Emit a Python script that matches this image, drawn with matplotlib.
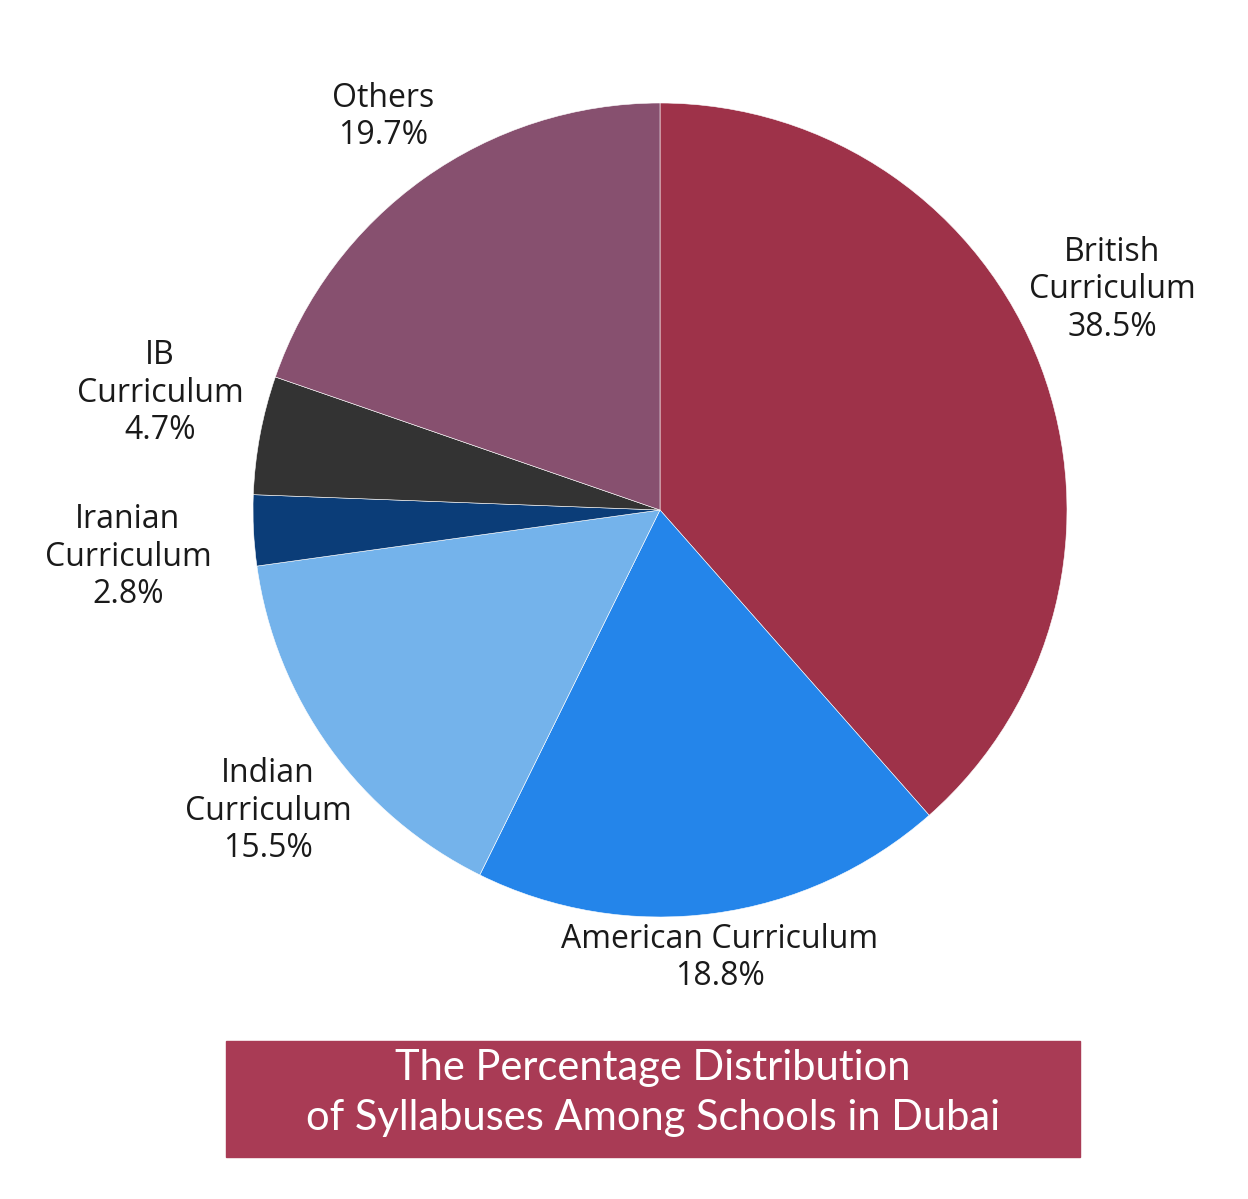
import matplotlib.pyplot as plt
from matplotlib.patches import Rectangle

# data (clockwise from 12 o'clock)
labels = ["British\nCurriculum", "American Curriculum", "Indian\nCurriculum",
          "Iranian\nCurriculum", "IB\nCurriculum", "Others"]
shares = [38.5, 18.8, 15.5, 2.8, 4.7, 19.7]
colors = ["#9E3249", "#2485EA", "#74B3EB", "#0B3D78", "#333333", "#87506F"]
title = "The Percentage Distribution\nof Syllabuses Among Schools in Dubai"

# label anchor points in pixel coords (image y from top)
label_xy = [(1112, 290), (720, 958), (268, 811), (128, 557), (160, 393), (383, 117)]

W, H = 1248, 1199
fig = plt.figure(figsize=(W / 100, H / 100), dpi=100)
ax = fig.add_axes([0, 0, 1, 1])

cx, cy, r = 660, H - 510, 407
ax.pie(shares, colors=colors, startangle=90, counterclock=False,
       center=(cx, cy), radius=r, frame=True,
       wedgeprops=dict(edgecolor="white", linewidth=0.4))
ax.set_xlim(0, W)
ax.set_ylim(0, H)
ax.set_aspect("equal")
ax.axis("off")

for lab, val, (x, y) in zip(labels, shares, label_xy):
    ax.text(x, H - y, f"{lab}\n{val}%", ha="center", va="center",
            fontsize=23, family="Open Sans", color="#1a1a1a", linespacing=1.17)

# title box
ax.add_patch(Rectangle((226, H - 1157), 854, 116, color="#A93B55", zorder=3))
ax.text(653, H - 1093, title, ha="center", va="center", fontsize=30,
        family="Lato", color="white", linespacing=1.36, zorder=4)

fig.savefig("out.png", dpi=100, facecolor="white")
